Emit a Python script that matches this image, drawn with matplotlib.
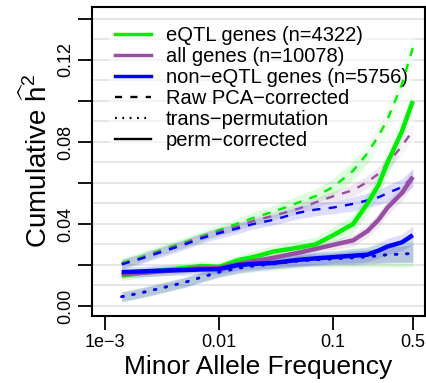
import numpy as np
import matplotlib
matplotlib.use('Agg')
import matplotlib.pyplot as plt
from matplotlib.lines import Line2D

plt.rcParams['font.family'] = ['Liberation Sans', 'DejaVu Sans']
plt.rcParams['mathtext.fontset'] = 'custom'
plt.rcParams['mathtext.rm'] = 'Liberation Sans'
plt.rcParams['mathtext.it'] = 'Liberation Sans'

# MAF bins
maf = [0.0014, 0.002, 0.003, 0.005, 0.007, 0.01, 0.015, 0.02, 0.03, 0.05,
       0.07, 0.1, 0.15, 0.2, 0.25, 0.3, 0.4, 0.5]

# raw PCA-corrected (dashed)
raw_eqtl = [0.021, 0.0235, 0.027, 0.031, 0.034, 0.037, 0.0405, 0.043, 0.046, 0.0505,
            0.0535, 0.058, 0.066, 0.0745, 0.083, 0.091, 0.108, 0.126]
raw_all = [0.0205, 0.023, 0.0265, 0.0305, 0.0335, 0.0363, 0.039, 0.0415, 0.044, 0.0475,
           0.0505, 0.0535, 0.0565, 0.0605, 0.0645, 0.0695, 0.078, 0.0855]
raw_non = [0.0203, 0.0228, 0.026, 0.030, 0.033, 0.0355, 0.038, 0.040, 0.042, 0.0455,
           0.047, 0.048, 0.0498, 0.0515, 0.053, 0.055, 0.058, 0.0625]

# trans-permutation (dotted)
perm_eqtl = [0.0045, 0.0062, 0.0085, 0.0115, 0.014, 0.0165, 0.0185, 0.0195, 0.0205, 0.022,
             0.0225, 0.023, 0.0235, 0.024, 0.0245, 0.025, 0.0253, 0.0256]
perm_all = [0.0045, 0.0062, 0.0085, 0.0115, 0.014, 0.0165, 0.0185, 0.0195, 0.0205, 0.022,
            0.0225, 0.023, 0.0235, 0.024, 0.0245, 0.025, 0.0253, 0.0256]
perm_non = [0.0045, 0.0062, 0.0085, 0.0115, 0.014, 0.0165, 0.0185, 0.0195, 0.0205, 0.022,
            0.0225, 0.023, 0.0235, 0.024, 0.0245, 0.025, 0.0253, 0.0256]

# perm-corrected (solid)
corr_eqtl = [0.0148, 0.016, 0.0172, 0.0185, 0.0195, 0.019, 0.0225, 0.0238, 0.0265, 0.0285,
             0.030, 0.0345, 0.040, 0.050, 0.059, 0.070, 0.085, 0.100]
corr_all = [0.0155, 0.016, 0.0168, 0.0178, 0.0185, 0.0185, 0.0205, 0.0218, 0.0235, 0.026,
            0.0278, 0.0298, 0.032, 0.0365, 0.042, 0.048, 0.055, 0.063]
corr_non = [0.0165, 0.0168, 0.0172, 0.0175, 0.0178, 0.018, 0.020, 0.0205, 0.021, 0.0225,
            0.0232, 0.0238, 0.0245, 0.025, 0.027, 0.029, 0.031, 0.0345]

# half width of the shaded bands
band_eqtl = [0.0025, 0.0025, 0.0025, 0.0025, 0.0025, 0.0025, 0.0025, 0.003, 0.003, 0.0035,
             0.0035, 0.004, 0.0045, 0.005, 0.0055, 0.006, 0.0065, 0.0065]
band_all = [0.002, 0.002, 0.002, 0.002, 0.002, 0.002, 0.002, 0.002, 0.002, 0.0025,
            0.0025, 0.0025, 0.003, 0.003, 0.0035, 0.0035, 0.004, 0.004]
band_non = [0.0025, 0.0025, 0.0025, 0.0025, 0.0025, 0.0025, 0.0025, 0.0025, 0.0025, 0.003,
            0.003, 0.003, 0.0035, 0.0035, 0.0037, 0.004, 0.004, 0.0045]

labels = ["eQTL genes (n=4322)", "all genes (n=10078)", "non\u2212eQTL genes (n=5756)"]
colors = ["#00EE00", "#984EA3", "#0000FF"]

fig = plt.figure(figsize=(4.26, 3.83), dpi=100)
ax = fig.add_axes([0.216, 0.175, 0.782, 0.807])

ax.set_xscale('log')
ax.set_xlim(7.69e-4, 0.641)
ax.set_ylim(-0.0049, 0.1459)

for y in np.arange(0.0, 0.15, 0.01):
    ax.axhline(y, color='#e4e4e4', lw=1.3, zorder=0)

groups = [
    (raw_eqtl, perm_eqtl, corr_eqtl, band_eqtl),
    (raw_all, perm_all, corr_all, band_all),
    (raw_non, perm_non, corr_non, band_non),
]
x = np.array(maf)

# bands
for (raw, perm, corr, band), c in zip(groups, colors):
    b = np.array(band)
    for vals in (raw, perm, corr):
        v = np.array(vals)
        ax.fill_between(x, v - b, v + b, color=c, alpha=0.13, lw=0, zorder=1)

# lines
for i, ((raw, perm, corr, band), c) in enumerate(zip(groups, colors)):
    ax.plot(x, raw, color=c, lw=1.7, dashes=(3.5, 3.5), zorder=3)
    ax.plot(x, perm, color=c, lw=2.0, dashes=(0.6, 3.4), dash_capstyle='round',
            zorder=3)
for (raw, perm, corr, band), c in zip(groups, colors):
    ax.plot(x, corr, color=c, lw=3.2, solid_capstyle='butt', zorder=4)

ax.set_xticks([0.001, 0.01, 0.1, 0.5])
ax.set_xticklabels(["1e\u22123", "0.01", "0.1", "0.5"])
ax.minorticks_off()
ax.set_yticks(np.arange(0.0, 0.141, 0.02))
ax.set_yticklabels(["0.00", "", "0.04", "", "0.08", "", "0.12", ""],
                   rotation=90, va='center')
ax.tick_params(axis='both', direction='out', length=10, width=1.3,
               labelsize=13, color='black')
ax.tick_params(axis='y', pad=3)
ax.tick_params(axis='x', pad=3)
for s in ax.spines.values():
    s.set_linewidth(1.5)

ax.set_xlabel("Minor Allele Frequency", fontsize=19, labelpad=3)
ax.set_ylabel(r"Cumulative $\widehat{\mathrm{h}}^2$", fontsize=20, labelpad=3)

handles = [Line2D([], [], color=colors[0], lw=2.5),
           Line2D([], [], color=colors[1], lw=2.5),
           Line2D([], [], color=colors[2], lw=2.5),
           Line2D([], [], color='black', lw=1.7, dashes=(3.0, 3.5)),
           Line2D([], [], color='black', lw=1.6, dashes=(0.8, 2.5)),
           Line2D([], [], color='black', lw=1.7)]
leg_labels = labels + ["Raw PCA\u2212corrected", "trans\u2212permutation", "perm\u2212corrected"]
leg = ax.legend(handles, leg_labels, loc='upper left', bbox_to_anchor=(0.02, 0.99),
                fontsize=14.5, frameon=True, fancybox=False, edgecolor='none',
                facecolor='white', framealpha=0.6, handlelength=1.8,
                handletextpad=0.75, labelspacing=0.1, borderpad=0.3)
leg.set_zorder(2)

fig.savefig("out.png", dpi=100)
